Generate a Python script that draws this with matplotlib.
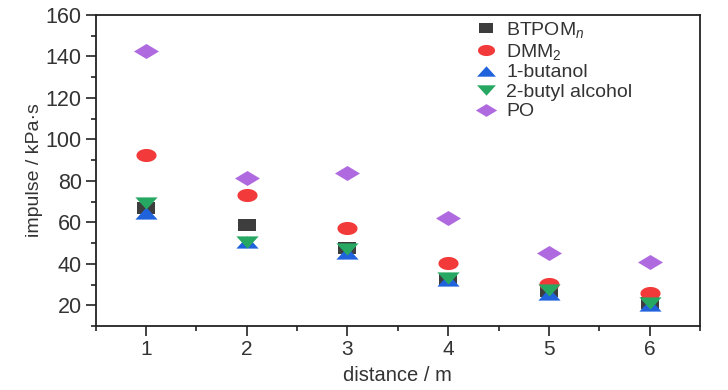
import numpy as np
import matplotlib
matplotlib.use("Agg")
import matplotlib.pyplot as plt
from matplotlib import font_manager as fm
from matplotlib.ticker import MultipleLocator

# ---- data ----
distance = [1, 2, 3, 4, 5, 6]
btpom = [67, 58.8, 47.5, 32.5, 27, 21]
dmm2 = [92.3, 73.3, 57.5, 40.5, 30.5, 26]
butanol1 = [64.5, 50.5, 45, 32, 25.5, 20]
butyl2 = [69.3, 50.5, 47, 33, 27.5, 21]
po = [142.7, 81.3, 83.7, 62, 45, 41]
labels = ["BTPOM$_{n}$", "DMM$_{2}$", "1-butanol", "2-butyl alcohol", "PO"]
x_ticks = [1, 2, 3, 4, 5, 6]
y_ticks = [20, 40, 60, 80, 100, 120, 140, 160]

# font
fam = "DejaVu Sans"
for cand in ["Liberation Sans Narrow", "Liberation Sans", "Arial"]:
    try:
        fm.findfont(cand, fallback_to_default=False)
        fam = cand
        break
    except Exception:
        pass
plt.rcParams["font.family"] = [fam, "DejaVu Sans"]
plt.rcParams["mathtext.fontset"] = "custom"
plt.rcParams["mathtext.rm"] = fam
plt.rcParams["mathtext.it"] = fam + ":italic"

# wide (stretched) marker shapes
t = np.linspace(0, 2 * np.pi, 40)
ellipse = list(zip(1.0 * np.cos(t), 0.65 * np.sin(t)))
square = [(-1, -0.72), (1, -0.72), (1, 0.72), (-1, 0.72), (-1, -0.72)]
tri_up = [(-1, -0.55), (1, -0.55), (0, 0.55), (-1, -0.55)]
tri_dn = [(-1, 0.55), (1, 0.55), (0, -0.55), (-1, 0.55)]
diamond = [(-1, 0), (0, 0.6), (1, 0), (0, -0.6), (-1, 0)]

fig = plt.figure(figsize=(7.28, 3.9), dpi=100)
ax = fig.add_axes([0.1315, 0.164, 0.83, 0.7975])

series = [btpom, dmm2, butanol1, butyl2, po]
markers = [square, ellipse, tri_up, tri_dn, diamond]
colors = ["#3d3d3d", "#f23a3a", "#1f62dc", "#27a862", "#b06ae0"]
sizes = [12.5, 14.5, 16, 16, 18]
for s, m, c, ms, lab in zip(series, markers, colors, sizes, labels):
    ax.plot(distance, s, linestyle="none", marker=m, markersize=ms,
            color=c, markeredgewidth=0, label=lab)

ax.set_xlim(0.5, 6.5)
ax.set_ylim(10, 160)
ax.set_xticks(x_ticks)
ax.set_yticks(y_ticks)
ax.xaxis.set_minor_locator(MultipleLocator(0.5))
ax.yaxis.set_minor_locator(MultipleLocator(10))
ax.tick_params(axis="both", which="major", direction="out", length=7,
               width=1.2, color="#222222", labelcolor="#333333", pad=3)
ax.tick_params(axis="both", which="minor", direction="out", length=3.5,
               width=1.2, color="#222222")
ax.tick_params(axis="y", labelsize=15.5)
ax.tick_params(axis="x", labelsize=15)
ax.tick_params(top=False, right=False)
for sp in ax.spines.values():
    sp.set_linewidth(1.3)
    sp.set_color("#222222")

ax.set_xlabel("distance / m", fontsize=14.5, color="#333333", labelpad=5)
ax.set_ylabel("impulse / kPa·s", fontsize=14, color="#333333", labelpad=2)

leg = ax.legend(loc="upper left", bbox_to_anchor=(0.61, 1.022), frameon=False,
                fontsize=14, handlelength=1.0, handletextpad=0.55,
                labelspacing=0.1, borderaxespad=0.2, markerscale=0.85)
for txt in leg.get_texts():
    txt.set_color("#333333")

fig.savefig("out.png", dpi=100)
